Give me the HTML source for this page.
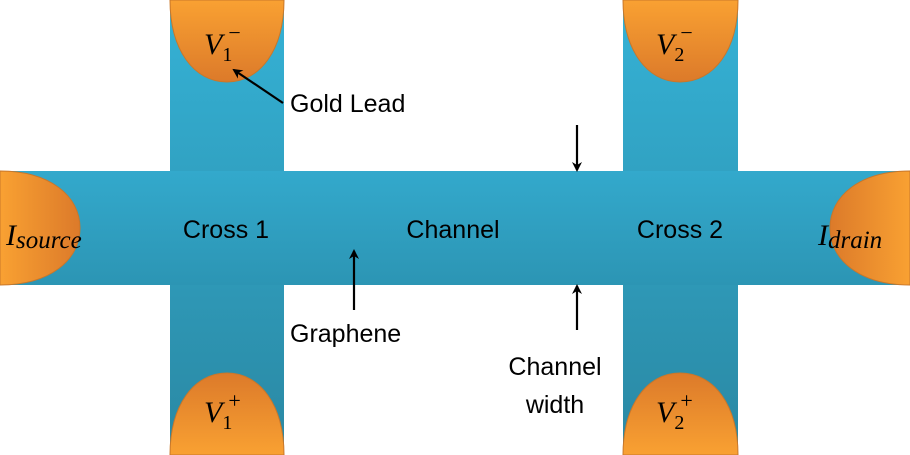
<!DOCTYPE html>
<html><head><style>body{margin:0;background:#fff}svg{display:block}</style></head><body>
<svg width="910" height="455" viewBox="0 0 910 455" xmlns="http://www.w3.org/2000/svg">
<defs>
<linearGradient id="bv" x1="0" y1="0" x2="0" y2="1"><stop offset="0" stop-color="#35b2d6"/><stop offset="1" stop-color="#2a88a3"/></linearGradient>
<linearGradient id="bh" x1="0" y1="0" x2="0" y2="1"><stop offset="0" stop-color="#33a9cc"/><stop offset="1" stop-color="#2c95b4"/></linearGradient>
<linearGradient id="ot" x1="0" y1="0" x2="0" y2="1"><stop offset="0" stop-color="#f9a132"/><stop offset="1" stop-color="#dc7a2a"/></linearGradient>
<linearGradient id="ob" x1="0" y1="1" x2="0" y2="0"><stop offset="0" stop-color="#f9a132"/><stop offset="1" stop-color="#dc7a2a"/></linearGradient>
<linearGradient id="ol" x1="0" y1="0" x2="1" y2="0"><stop offset="0" stop-color="#f9a132"/><stop offset="1" stop-color="#dc7a2a"/></linearGradient>
<linearGradient id="or" x1="1" y1="0" x2="0" y2="0"><stop offset="0" stop-color="#f9a132"/><stop offset="1" stop-color="#dc7a2a"/></linearGradient>
<marker id="ah" markerWidth="10" markerHeight="10" refX="8" refY="5" orient="auto" markerUnits="userSpaceOnUse"><path d="M0,0 L10,5 L0,10 L3,5 z" fill="#000"/></marker>
</defs>
<rect x="170" y="0" width="114" height="455" fill="url(#bv)"/>
<rect x="623" y="0" width="115" height="455" fill="url(#bv)"/>
<rect x="0" y="171" width="910" height="114" fill="url(#bh)"/>
<path d="M170,0 L284,0 C284,50 260,82 227,82 C194,82 170,50 170,0 z" fill="url(#ot)" stroke="#c9772a" stroke-width="1"/>
<path d="M623,0 L738,0 C738,50 714,82 680,82 C647,82 623,50 623,0 z" fill="url(#ot)" stroke="#c9772a" stroke-width="1"/>
<path d="M170,455 L284,455 C284,405 260,373 227,373 C194,373 170,405 170,455 z" fill="url(#ob)" stroke="#c9772a" stroke-width="1"/>
<path d="M623,455 L738,455 C738,405 714,373 680,373 C647,373 623,405 623,455 z" fill="url(#ob)" stroke="#c9772a" stroke-width="1"/>
<path d="M0,171 L0,285 C50,285 80,260 80,228 C80,196 50,171 0,171 z" fill="url(#ol)" stroke="#c9772a" stroke-width="1"/>
<path d="M910,171 L910,285 C860,285 830,260 830,228 C830,196 860,171 910,171 z" fill="url(#or)" stroke="#c9772a" stroke-width="1"/>
<g font-family="Liberation Sans, sans-serif" font-size="25" fill="#000">
<text x="226" y="238" text-anchor="middle">Cross 1</text>
<text x="453" y="238" text-anchor="middle">Channel</text>
<text x="680" y="238" text-anchor="middle">Cross 2</text>
<text x="290" y="112">Gold Lead</text>
<text x="290" y="342">Graphene</text>
<text x="555" y="375" text-anchor="middle">Channel</text>
<text x="555" y="413" text-anchor="middle">width</text>
</g>
<g font-family="Liberation Serif, serif" font-style="italic" fill="#000">
<text x="204" y="54" font-size="30">V<tspan font-size="20" font-style="normal" dy="7">1</tspan><tspan font-size="22" font-style="normal" dx="-4" dy="-21">−</tspan></text>
<text x="656" y="54" font-size="30">V<tspan font-size="20" font-style="normal" dy="7">2</tspan><tspan font-size="22" font-style="normal" dx="-4" dy="-21">−</tspan></text>
<text x="204" y="422" font-size="30">V<tspan font-size="20" font-style="normal" dy="7">1</tspan><tspan font-size="22" font-style="normal" dx="-4" dy="-21">+</tspan></text>
<text x="656" y="422" font-size="30">V<tspan font-size="20" font-style="normal" dy="7">2</tspan><tspan font-size="22" font-style="normal" dx="-4" dy="-21">+</tspan></text>
<text x="6" y="245" font-size="30">I<tspan font-size="25" dy="3">source</tspan></text>
<text x="818" y="245" font-size="30">I<tspan font-size="25" dy="3">drain</tspan></text>
</g>
<g stroke="#000" stroke-width="2.2">
<line x1="283" y1="103" x2="234" y2="70" marker-end="url(#ah)"/>
<line x1="354" y1="310" x2="354" y2="251" marker-end="url(#ah)"/>
<line x1="577" y1="125" x2="577" y2="170" marker-end="url(#ah)"/>
<line x1="577" y1="330" x2="577" y2="286" marker-end="url(#ah)"/>
</g>
</svg>
</body></html>
